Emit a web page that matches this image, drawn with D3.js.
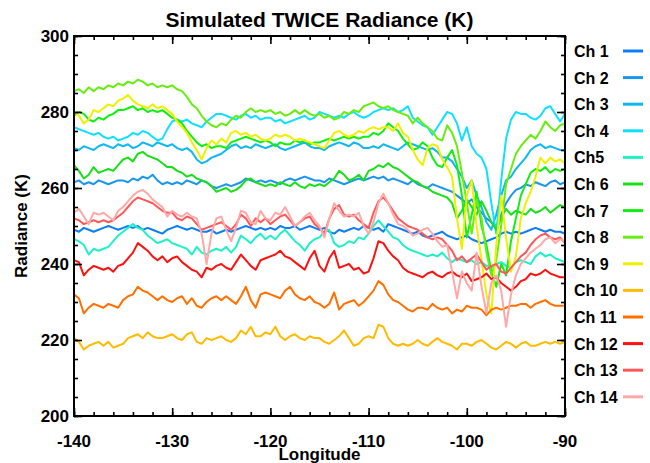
<!DOCTYPE html>
<html><head><meta charset="utf-8">
<script src="https://cdn.jsdelivr.net/npm/d3@7"></script>
<style>body{margin:0;background:#fff}svg{display:block}text{font-family:"Liberation Sans",Arial,Helvetica,sans-serif;font-weight:bold;fill:#000}</style>
</head><body><div id="chart"></div>
<script>
const longitude = [-140,-139.5,-139,-138.5,-138,-137.5,-137,-136.5,-136,-135.5,-135,-134.5,-134,-133.5,-133,-132.5,-132,-131.5,-131,-130.5,-130,-129.5,-129,-128.5,-128,-127.5,-127,-126.5,-126,-125.5,-125,-124.5,-124,-123.5,-123,-122.5,-122,-121.5,-121,-120.5,-120,-119.5,-119,-118.5,-118,-117.5,-117,-116.5,-116,-115.5,-115,-114.5,-114,-113.5,-113,-112.5,-112,-111.5,-111,-110.5,-110,-109.5,-109,-108.5,-108,-107.5,-107,-106.5,-106,-105.5,-105,-104.5,-104,-103.5,-103,-102.5,-102,-101.5,-101,-100.5,-100,-99.5,-99,-98.5,-98,-97.5,-97,-96.5,-96,-95.5,-95,-94.5,-94,-93.5,-93,-92.5,-92,-91.5,-91,-90.5,-90];
const channels = ["Ch 1","Ch 2","Ch 3","Ch 4","Ch5","Ch 6","Ch 7","Ch 8","Ch 9","Ch 10","Ch 11","Ch 12","Ch 13","Ch 14"];
const colors = ["#0d7ef2","#1a96ee","#10b8f0","#10e0ff","#20f0c8","#18e018","#10f010","#66ee10","#eef000","#ffbb00","#ff7000","#ff1010","#ff5858","#ffa8a8"];
const xTicks = [-140,-130,-120,-110,-100,-90];
const yTicks = [200,220,240,260,280,300];

const ch1 = [249,248.5,249.5,249,248.5,249,249.5,250,249.5,249, 249.5,250,249.5,250,249,249.5,249,248.5,248,249, 249.5,250,249.5,249,249.5,249,248.5,248.5,249,248, 248.5,249,248.5,249,249.5,250,249.5,249,249.5,249, 249.5,249,250,249.5,249.5,250,249,249.5,250,249.5, 249,249.5,248.5,248,249,248.5,249,249.5,249,250, 249.5,249,249.5,248.5,250.5,250,249.5,249,248.5,248, 248.5,247.5,247,247.5,248,248.5,247.5,247,246.5,247, 247.5,246.5,246,245.5,246,246.5,247,248,248.5,248, 248.5,248,248.5,249,249.5,249,248.5,249,248.5,248.5, 248];
const ch2 = [261.5,262,261,261.5,261,262,261.5,261,261.5,262, 262,261.5,262.5,262,263,262.5,263.5,262,261,261.5, 261,261.5,261,262,261.5,261,262,261.5,260.5,260, 260.5,261,260.5,261,261.5,262.5,262,261.5,262,261.5, 262,261.5,261,262,262.5,262,262.5,263,262.5,262, 262,261.5,262.5,262,261.5,261,261.5,262,262.5,262, 262.5,263,262.5,263,262,262.5,262,261.5,261,262, 261,260.5,260,261,260.5,260,259.5,259,258,257, 256,257,255,253.5,252,251,250,253,256,258, 259.5,260,261,260.5,261.5,261,260.5,261.5,262,261, 261.5];
const ch3 = [270.5,270,271,270.5,270,271,271.5,271,270.5,271.5, 271,271.5,270.5,271,272,271.5,271,272,271.5,271, 271.5,270.5,270,270.5,269.5,267.5,266.5,267,268,268.5, 269,270,271,271.5,270.5,271,270.5,271.5,271,270.5, 271,271.5,270.5,270,270.5,271,271.5,272,271,270.5, 270.5,270,271,271.5,272,271.5,271,272,271.5,270.5, 270.5,271,270.5,271.5,271,270.5,270,271,272,271.5, 271,270.5,270,270.5,269.5,268,268,267,265,263, 260,262,258,255,251,249,253,258,262,263, 265,266.5,268,270,271,271.5,270.5,271,270.5,270, 270];
const ch4 = [276,275.5,275,274.5,274,274.5,273.5,273,273.5,272.5, 273,273.5,274.5,274,275,274.5,273.5,272.5,273,275.5, 277.5,278,277.5,278,277,276.5,276,277.5,278.5,279.5, 279.5,279,278.5,278,279,279.5,278.5,279,278,278.5, 278.5,277.5,278,277,277.5,278,278.5,279,278,278.5, 280,279.5,279,278.5,279,278.5,279.5,280,279,278.5, 279,280,280.5,281,280.5,281,280,280.5,281.5,278.5, 277.5,276.5,276,274,276,278,280,279.5,277,272.5, 276,271,269,268,265,256,248,262,273,278, 280,279.5,279.5,278.5,278,279,281,281.5,279.5,277.5, 279.5];
const ch5 = [246.5,246,245,242.5,244,243.5,244,244.5,246,247.5, 248.5,249.5,250.5,249.5,249,247.5,246.5,245.5,246,246.5, 245.5,245,244.5,244,242.5,244.5,243,242.5,243.5,244, 243.5,244.5,243,244.5,247.5,246.5,245.5,247,248,246.5, 247.5,246.5,248,249,247.5,246,245,243.5,245.5,246.5, 247,248.5,249,245.5,244.5,245,246,245.5,247,246.5, 248,250,251.5,250,248.5,247,246.5,245,244,243.5, 243,242.5,242,242.5,242,243,241.5,240.5,241.5,241, 240.5,241,240,240.5,239.5,239,240,240.5,239.5,239, 240.5,241,240.5,240,242,243,242,242.5,241.5,241, 240.5];
const ch6 = [266,264.5,262.5,263.5,265.5,264,264.5,265,264.5,266, 267.5,268,267,269,269.5,268.5,268,267.5,266.5,265.5, 265.5,264.5,264,263,263.5,262.5,262,261.5,260.5,259, 259.5,260,259,259.5,260.5,262,262.5,261.5,261,260.5, 261,260.5,261.5,261,260.5,261.5,260.5,260,261,260.5, 261,260.5,261.5,262.5,264.5,263.5,262,262.5,263.5,262, 264.5,265,266,265.5,266.5,265.5,265,264,263,262, 261.5,260.5,260,259,258.5,258,257.5,256,252,254, 257,255,253,256.5,254,251,249,252,254.5,253, 254,253.5,253,254.5,253.5,254,255,253.5,254.5,255.5, 255];
const ch7 = [279,280,279.5,278,277.5,278.5,278,279,279.5,280.5, 280.5,281,281.5,280.5,281,280,280.5,280,280.5,279.5, 278.5,278,277,275,273.5,272,271,271.5,270.5,271, 271,270.5,272,272.5,273,273.5,273,272.5,272,272.5, 272,271,272,271.5,271.5,272.5,272,272.5,271.5,272, 272,272.5,273,272.5,273,273.5,273,273.5,273,273.5, 273.5,274.5,274,275,277,276,275,273,271.5,270, 270.5,272,271,268,266,265.5,268,270,266,258, 247,253,259,250,245,238,234,240,237,246, 252,258,261,264,265,264.5,265.5,264,265,264.5, 265];
const ch8 = [285.5,286,285,286.5,285.5,286.5,286,287,286.5,287.5, 287,288,287.5,288.5,288,287,287.5,286.5,287,286.5, 287,286,285.5,284,282,281,279,277.5,276.5,276, 277,276.5,278,279,278.5,280,281,280,280.5,280, 280.5,279.5,280,279,279.5,280.5,279.5,280.5,279.5,279, 279.5,278.5,279,278,278.5,280,279.5,280.5,280,281.5, 282,282.5,281.5,281,281.5,280.5,280,279.5,279,277, 278.5,277,276,275,273,272.5,276.5,274.5,271,264, 256,248,257,252,243,237,241,250,261,265, 269,271,272.5,274,273,275,277.5,276,275,276.5, 277];
const ch9 = [280,279,277,278,280.5,280,281,282,281.5,283, 283.5,284.5,283,282,281.5,281,282,281,281.5,280.5, 279.5,277.5,276,274.5,272,270,267.5,270.5,272.5,271.5, 273,272,274.5,275,274,274.5,273.5,274,273,272.5, 273,274,273.5,274,273.5,272.5,273,272.5,272,271.5, 271,270.5,272.5,274.5,275,274,273.5,274,275,274.5, 275.5,276,275.5,276,276,275,277,274.5,273.5,270, 267.5,266,270.5,271.5,271,267.5,265.5,263,252,244, 258,262,250,241,232,227,245,258,247,238, 242,252,256,259,263,268,266.5,268,267,267.5, 266.5];
const ch10 = [220.5,219.5,217.5,218.5,219,219.5,218.5,219.5,218,218.5, 219,220.5,221,221.5,220.5,222,221,220.5,220.5,221, 221.5,220.5,220,221.5,222,219.5,219,220.5,220,220.5, 221,220,219.5,220.5,222.5,221.5,223.5,221,221,222, 221.5,223.5,221,220,221,221.5,220.5,220,221,220.5, 220.5,219.5,219,220,221,222.5,220.5,218.5,219,220.5, 221,220.5,224,223.5,220.5,219,218.5,219,218.5,219, 220,219,218.5,219.5,220.5,219.5,219,218.5,217.5,219, 219,218.5,219.5,220,219,218,217.5,218.5,219.5,219, 218,219,219.5,218.5,218.5,219,219.5,219,219.5,219, 219.5];
const ch11 = [232,231,227,228.5,229.5,229,228.5,229.5,229,228.5, 230.5,231.5,232,234,233,232.5,231.5,230.5,231.5,230.5, 230,231,231.5,229.5,231,229,228.5,230,231,231.5, 230.5,231.5,230.5,229.5,231.5,234,230.5,228.5,232,232.5, 232,231.5,231,233,234,232,231,230.5,231.5,230, 229.5,228.5,229.5,232.5,228,229.5,230,230.5,229,230, 231.5,233,235.5,234.5,232,230.5,230,229,228,227.5, 228.5,228.5,228,229.5,228.5,228,228.5,227,228,227.5, 229,228.5,228.5,228,226.5,228,228.5,228,228.5,229, 229,229.5,229.5,228.5,229.5,230,230.5,229.5,229,229, 229];
const ch12 = [241,240.5,237,238.5,239.5,239,238.5,239,238,239.5, 240,241.5,243,245.5,244.5,243.5,242,241,242,240.5, 241.5,242,240.5,239.5,238.5,238,236.5,239,238.5,239.5, 240,239,238.5,240.5,242.5,241,239.5,238.5,241,241.5, 242,242.5,243.5,242,241.5,240.5,239.5,238.5,241.5,243.5, 239.5,238,241.5,243.5,239,239.5,240,238.5,239,237.5, 238,241.5,246,245.5,243.5,242,241,239,238,237.5, 237,236.5,237.5,238,237,236.5,237.5,238,237,236.5, 237.5,235.5,236,236.5,237.5,236,236.5,235,234,233, 234,235.5,236,237.5,237,237.5,238.5,237.5,237,236.5, 236.5];
const ch13 = [252,251.5,250.5,251,251.5,251,251.5,251,251.5,252.5, 253.5,255,256.5,257.5,257,256.5,256,255,254,253.5, 253.5,252,251.5,252.5,252,250.5,249,249.5,250,250.5, 251,250,249,250.5,253,252,250,252,251,252, 250.5,251.5,252.5,253,251.5,250,251,252,252.5,250.5, 249.5,248,252,254.5,255.5,253,252.5,253,251.5,250.5, 249.5,253.5,256.5,257.5,256,254,252,251,250,249.5, 249,248,247,246.5,247,246.5,245,243.5,241,242, 240.5,241.5,242.5,240.5,238.5,239.5,240,238,237.5,239, 240.5,242,243,245,246.5,247.5,248,247,246.5,247, 245.5];
const ch14 = [253.5,254.5,252.5,250.5,253.5,253,253.5,252.5,251.5,254, 255,256.5,258,259,259.5,258.5,257,256,255,252.5, 254,253,252.5,253.5,252.5,252,248,240,248,252, 252.5,249,246,249.5,254,253.5,251,250.5,254,252, 251.5,253.5,253,255,252.5,250,251,252.5,253.5,251.5, 250,247,252,256,254,252.5,253,252.5,253.5,250, 248,251,256,258.5,256,253,250.5,250,249,247.5, 248,249,249.5,248,246,244.5,245,238,231,238, 235,233,243,234,227,235,237,233,223.5,232, 237,240,241.5,243,244,245,246.5,247,245.5,246.5, 246];
const series = [ch1,ch2,ch3,ch4,ch5,ch6,ch7,ch8,ch9,ch10,ch11,ch12,ch13,ch14];

const W = 650, H = 463;
const m = {left:74, right:565, top:36, bottom:416};
const svg = d3.select("#chart").append("svg").attr("width",W).attr("height",H);
const x = d3.scaleLinear().domain([-140,-90]).range([m.left,m.right]);
const y = d3.scaleLinear().domain([200,300]).range([m.bottom,m.top]);

// title
svg.append("text").attr("x",(m.left+m.right)/2).attr("y",27).attr("text-anchor","middle")
  .style("font-size","21px").text("Simulated TWICE Radiance (K)");

// lines
const clip = svg.append("clipPath").attr("id","c").append("rect")
  .attr("x",m.left).attr("y",m.top).attr("width",m.right-m.left).attr("height",m.bottom-m.top);
const line = d3.line().x((d,i)=>x(longitude[i])).y(d=>y(d));
const g = svg.append("g").attr("clip-path","url(#c)");
series.forEach((s,k)=>{
  g.append("path").datum(s).attr("d",line).attr("fill","none")
    .attr("stroke",colors[k]).attr("stroke-width",2).attr("stroke-linejoin","round");
});

// axes (inward ticks on all sides)
const xMinor = d3.range(-140,-89,2);
const yMinor = d3.range(200,301,5);
const axB = svg.append("g").attr("transform",`translate(0,${m.bottom})`)
  .call(d3.axisTop(x).tickValues(xMinor).tickSize(4).tickFormat(""));
const axB2 = svg.append("g").attr("transform",`translate(0,${m.bottom})`)
  .call(d3.axisTop(x).tickValues(xTicks).tickSize(8).tickFormat(""));
svg.append("g").attr("transform",`translate(0,${m.top})`)
  .call(d3.axisBottom(x).tickValues(xMinor).tickSize(4).tickFormat(""));
svg.append("g").attr("transform",`translate(0,${m.top})`)
  .call(d3.axisBottom(x).tickValues(xTicks).tickSize(8).tickFormat(""));
svg.append("g").attr("transform",`translate(${m.left},0)`)
  .call(d3.axisRight(y).tickValues(yMinor).tickSize(4).tickFormat(""));
svg.append("g").attr("transform",`translate(${m.left},0)`)
  .call(d3.axisRight(y).tickValues(yTicks).tickSize(8).tickFormat(""));
svg.append("g").attr("transform",`translate(${m.right},0)`)
  .call(d3.axisLeft(y).tickValues(yMinor).tickSize(4).tickFormat(""));
svg.append("g").attr("transform",`translate(${m.right},0)`)
  .call(d3.axisLeft(y).tickValues(yTicks).tickSize(8).tickFormat(""));
svg.selectAll(".domain").remove();
svg.selectAll(".tick line").attr("stroke","#000").attr("stroke-width",1.6);
svg.append("rect").attr("x",m.left).attr("y",m.top).attr("width",m.right-m.left)
  .attr("height",m.bottom-m.top).attr("fill","none").attr("stroke","#000").attr("stroke-width",2);

// tick labels
svg.append("g").selectAll("text").data(xTicks).join("text")
  .attr("x",d=>x(d)).attr("y",m.bottom+31).attr("text-anchor","middle")
  .style("font-size","17px").text(d=>d);
svg.append("g").selectAll("text").data(yTicks).join("text")
  .attr("x",m.left-5).attr("y",d=>y(d)+6).attr("text-anchor","end")
  .style("font-size","17px").text(d=>d);

// axis titles
svg.append("text").attr("x",(m.left+m.right)/2).attr("y",460).attr("text-anchor","middle")
  .style("font-size","17px").text("Longitude");
svg.append("text").attr("transform",`translate(27,${(m.top+m.bottom)/2}) rotate(-90)`)
  .attr("text-anchor","middle").style("font-size","17px").text("Radiance (K)");

// legend
const lg = svg.append("g");
channels.forEach((c,k)=>{
  const cy = 51 + k*26.6;
  lg.append("text").attr("x",574).attr("y",cy+6).style("font-size","16px").text(c);
  lg.append("line").attr("x1",623).attr("x2",643).attr("y1",cy).attr("y2",cy)
    .attr("stroke",colors[k]).attr("stroke-width",3);
});
</script></body></html>
